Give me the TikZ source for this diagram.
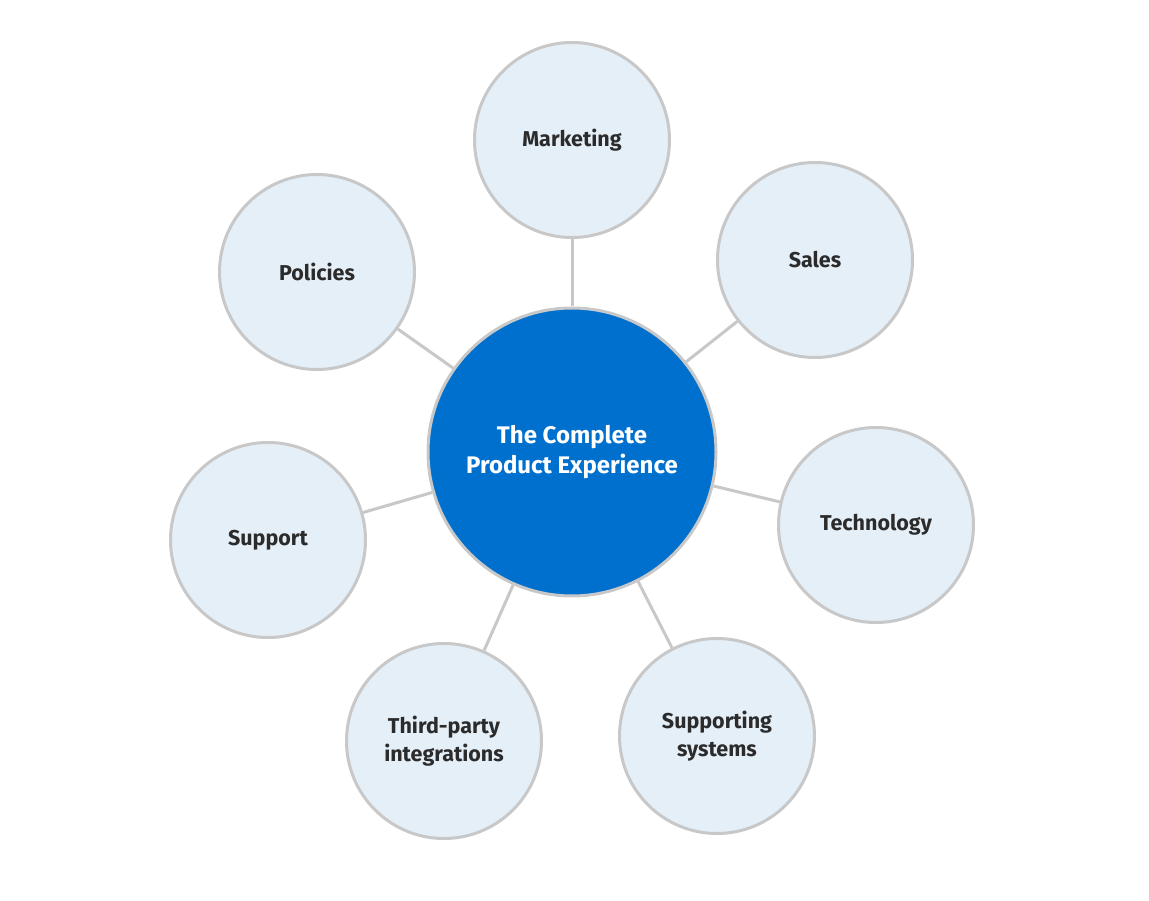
\documentclass[tikz,border=0pt]{standalone}
\usepackage{fontspec}
\setmainfont{Fira Sans}
\definecolor{ringgray}{HTML}{C8C8C8}
\definecolor{hubblue}{HTML}{0070CE}
\definecolor{leaffill}{HTML}{E5EFF8}
\definecolor{leaftext}{HTML}{2B2B2B}
\begin{document}
\begin{tikzpicture}[
        x=1pt, y=-1pt,
        every node/.style={circle, draw=ringgray, line width=3pt, align=center},
        hub/.style={fill=hubblue, minimum size=288pt, text=white, font=\bfseries\fontsize{24}{30}\selectfont},
        leaf/.style={fill=leaffill, minimum size=195pt, text=leaftext, font=\bfseries\fontsize{21.5}{28}\selectfont},
        edge/.style={draw=ringgray, line width=3pt}
    ]
        \useasboundingbox (0,0) rectangle (1149,901);

        \node[hub] (H) at (572,452) {The Complete\\Product Experience};
        \node[leaf] (M) at (572,140) {Marketing};
        \node[leaf] (S) at (815,260) {Sales};
        \node[leaf] (P) at (317,272) {Policies};
        \node[leaf] (T) at (876,525) {Technology};
        \node[leaf] (U) at (268,540) {Support};
        \node[leaf] (I) at (444,741) {Third-party\\integrations};
        \node[leaf] (Y) at (717,736) {Supporting\\systems};

        \path[edge] (H) -- (M);
        \path[edge] (H) -- (S);
        \path[edge] (H) -- (P);
        \path[edge] (H) -- (T);
        \path[edge] (H) -- (U);
        \path[edge] (H) -- (I);
        \path[edge] (H) -- (Y);
    \end{tikzpicture}
\end{document}
